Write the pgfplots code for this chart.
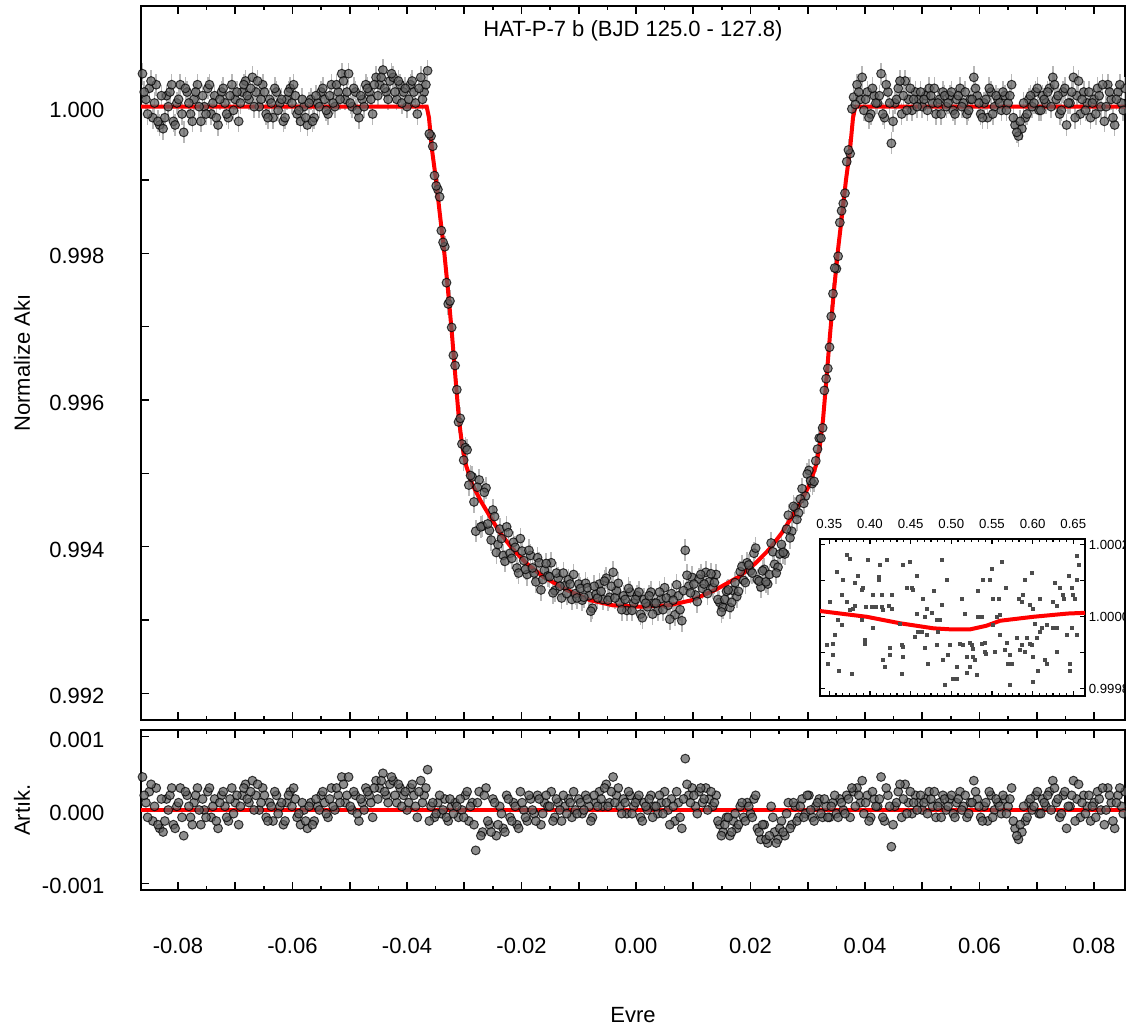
\documentclass[border=0pt]{standalone}
\usepackage{fontspec}
\setmainfont{Liberation Sans}
\usepackage{pgfplots}
\usepackage{pgfplotstable}
\pgfplotsset{compat=1.18}

% phase, normalised flux, residual (first half of the points)
\pgfplotstableread{
x f r
-0.0862 1.00045 0.00045
-0.0856 1.00010 0.00010
-0.0850 1.00025 0.00025
-0.0844 0.99985 -0.00015
-0.0838 1.00030 0.00030
-0.0832 0.99975 -0.00025
-0.0826 0.99970 -0.00030
-0.0820 1.00015 0.00015
-0.0814 1.00020 0.00020
-0.0808 0.99980 -0.00020
-0.0802 1.00005 0.00005
-0.0796 1.00030 0.00030
-0.0790 0.99965 -0.00035
-0.0784 1.00020 0.00020
-0.0778 0.99990 -0.00010
-0.0772 1.00010 0.00010
-0.0766 1.00030 0.00030
-0.0760 0.99980 -0.00020
-0.0754 1.00000 0.00000
-0.0748 1.00025 0.00025
-0.0742 0.99990 -0.00010
-0.0736 1.00015 0.00015
-0.0730 0.99975 -0.00025
-0.0724 1.00020 0.00020
-0.0718 1.00005 0.00005
-0.0712 0.99985 -0.00015
-0.0706 1.00030 0.00030
-0.0700 1.00010 0.00010
-0.0694 0.99980 -0.00020
-0.0688 1.00020 0.00020
-0.0682 1.00035 0.00035
-0.0676 1.00010 0.00010
-0.0670 1.00040 0.00040
-0.0664 1.00020 0.00020
-0.0658 1.00000 0.00000
-0.0652 1.00030 0.00030
-0.0646 0.99990 -0.00010
-0.0640 1.00010 0.00010
-0.0634 0.99985 -0.00015
-0.0628 1.00020 0.00020
-0.0622 1.00005 0.00005
-0.0616 0.99980 -0.00020
-0.0610 1.00010 0.00010
-0.0604 1.00025 0.00025
-0.0598 1.00030 0.00030
-0.0592 0.99990 -0.00010
-0.0586 0.99980 -0.00020
-0.0580 1.00000 0.00000
-0.0574 0.99975 -0.00025
-0.0568 1.00010 0.00010
-0.0562 0.99985 -0.00015
-0.0556 1.00005 0.00005
-0.0550 1.00020 0.00020
-0.0544 1.00010 0.00010
-0.0538 0.99990 -0.00010
-0.0532 1.00030 0.00030
-0.0526 1.00000 0.00000
-0.0520 1.00020 0.00020
-0.0514 1.00045 0.00045
-0.0508 1.00010 0.00010
-0.0502 1.00045 0.00045
-0.0496 1.00000 0.00000
-0.0490 1.00020 0.00020
-0.0484 0.99985 -0.00015
-0.0478 1.00010 0.00010
-0.0472 1.00030 0.00030
-0.0466 1.00020 0.00020
-0.0460 0.99990 -0.00010
-0.0454 1.00040 0.00040
-0.0448 1.00030 0.00030
-0.0442 1.00050 0.00050
-0.0436 1.00020 0.00020
-0.0430 1.00035 0.00035
-0.0424 1.00040 0.00040
-0.0418 1.00010 0.00010
-0.0412 1.00030 0.00030
-0.0406 1.00020 0.00020
-0.0400 1.00000 0.00000
-0.0394 1.00030 0.00030
-0.0388 1.00020 0.00020
-0.0382 0.99990 -0.00010
-0.0376 1.00040 0.00040
-0.0370 1.00020 0.00020
-0.0364 1.00049 0.00055
-0.0358 0.99960 0.00005
-0.0352 0.99906 -0.00010
-0.0346 0.99887 0.00010
-0.0340 0.99831 -0.00005
-0.0334 0.99809 0.00015
-0.0328 0.99731 -0.00015
-0.0322 0.99699 0.00005
-0.0316 0.99647 0.00010
-0.0310 0.99570 -0.00010
-0.0304 0.99540 0.00000
-0.0298 0.99535 0.00020
-0.0292 0.99484 -0.00015
-0.0286 0.99495 0.00010
-0.0280 0.99421 -0.00055
-0.0274 0.99491 0.00025
-0.0268 0.99428 -0.00030
-0.0262 0.99480 0.00030
-0.0256 0.99422 -0.00020
-0.0250 0.99450 0.00015
-0.0244 0.99392 -0.00035
-0.0238 0.99424 0.00005
-0.0232 0.99388 -0.00025
-0.0226 0.99427 0.00020
-0.0220 0.99391 -0.00010
-0.0214 0.99406 0.00010
-0.0208 0.99371 -0.00020
-0.0202 0.99411 0.00025
-0.0196 0.99381 0.00000
-0.0190 0.99362 -0.00015
-0.0184 0.99388 0.00015
-0.0178 0.99364 -0.00005
-0.0172 0.99385 0.00020
-0.0166 0.99341 -0.00020
-0.0160 0.99368 0.00010
-0.0154 0.99360 0.00005
-0.0148 0.99378 0.00025
-0.0142 0.99340 -0.00010
-0.0136 0.99357 0.00010
-0.0130 0.99330 -0.00015
-0.0124 0.99347 0.00005
-0.0118 0.99355 0.00015
-0.0112 0.99328 -0.00010
-0.0106 0.99336 0.00000
-0.0100 0.99349 0.00015
-0.0094 0.99327 -0.00005
-0.0088 0.99350 0.00020
-0.0082 0.99333 0.00005
-0.0076 0.99316 -0.00010
-0.0070 0.99335 0.00010
-0.0064 0.99349 0.00025
-0.0058 0.99328 0.00005
-0.0052 0.99357 0.00035
-0.0046 0.99331 0.00010
-0.0040 0.99365 0.00045
-0.0034 0.99340 0.00020
-0.0028 0.99324 0.00005
-0.0022 0.99333 0.00015
-0.0016 0.99313 -0.00005
-0.0010 0.99338 0.00020
-0.0004 0.99323 0.00005
0.0002 0.99333 0.00015
0.0008 0.99308 -0.00010
0.0014 0.99328 0.00010
0.0020 0.99318 0.00000
0.0026 0.99338 0.00020
0.0032 0.99323 0.00005
0.0038 0.99313 -0.00005
0.0044 0.99329 0.00010
0.0050 0.99344 0.00025
0.0056 0.99320 0.00000
0.0062 0.99336 0.00015
0.0068 0.99307 -0.00015
0.0074 0.99333 0.00010
0.0080 0.99299 -0.00025
0.0086 0.99395 0.00070
0.0092 0.99346 0.00020
0.0098 0.99358 0.00030
0.0104 0.99334 0.00005
0.0110 0.99356 0.00025
0.0116 0.99343 0.00010
0.0122 0.99365 0.00030
0.0128 0.99352 0.00015
0.0134 0.99344 0.00005
0.0140 0.99362 0.00020
0.0146 0.99324 -0.00020
0.0152 0.99317 -0.00030
0.0158 0.99339 -0.00010
0.0164 0.99317 -0.00035
0.0170 0.99340 -0.00015
0.0176 0.99332 -0.00025
0.0182 0.99366 0.00005
0.0188 0.99354 -0.00010
0.0194 0.99378 0.00010
0.0200 0.99367 -0.00005
0.0206 0.99391 0.00015
0.0212 0.99355 -0.00025
0.0218 0.99345 -0.00040
0.0224 0.99369 -0.00020
0.0230 0.99349 -0.00045
0.0236 0.99405 0.00005
0.0242 0.99376 -0.00030
0.0248 0.99372 -0.00040
0.0254 0.99403 -0.00015
0.0260 0.99390 -0.00035
0.0266 0.99443 0.00010
0.0272 0.99421 -0.00020
0.0278 0.99453 0.00005
0.0284 0.99446 -0.00010
0.0290 0.99479 0.00015
0.0296 0.99469 -0.00005
0.0302 0.99504 0.00020
0.0308 0.99486 -0.00010
0.0314 0.99517 0.00005
0.0320 0.99548 0.00015
0.0326 0.99562 -0.00010
0.0332 0.99629 0.00005
0.0338 0.99672 -0.00010
0.0344 0.99745 0.00010
0.0350 0.99779 -0.00005
0.0356 0.99842 0.00015
0.0362 0.99868 0.00000
0.0368 0.99925 0.00020
0.0374 0.99936 -0.00010
0.0380 1.00013 0.00025
0.0386 1.00030 0.00030
0.0392 1.00010 0.00010
0.0398 0.99995 -0.00005
0.0404 1.00020 0.00020
0.0410 0.99990 -0.00010
0.0416 1.00015 0.00015
0.0422 1.00005 0.00005
0.0428 1.00045 0.00045
0.0434 0.99985 -0.00015
0.0440 1.00020 0.00020
0.0446 0.99950 -0.00050
0.0452 1.00005 0.00005
0.0458 1.00025 0.00025
0.0464 0.99990 -0.00010
0.0470 1.00035 0.00035
0.0476 1.00010 0.00010
0.0482 0.99995 -0.00005
0.0488 1.00020 0.00020
0.0494 1.00010 0.00010
0.0500 1.00000 0.00000
0.0506 1.00015 0.00015
0.0512 1.00025 0.00025
0.0518 1.00005 0.00005
0.0524 0.99990 -0.00010
0.0530 1.00010 0.00010
0.0536 1.00020 0.00020
0.0542 1.00000 0.00000
0.0548 1.00015 0.00015
0.0554 0.99995 -0.00005
0.0560 1.00010 0.00010
0.0566 1.00025 0.00025
0.0572 1.00005 0.00005
0.0578 0.99990 -0.00010
0.0584 1.00010 0.00010
0.0590 1.00040 0.00040
0.0596 1.00015 0.00015
0.0602 0.99990 -0.00010
0.0608 1.00005 0.00005
0.0614 0.99985 -0.00015
0.0620 1.00020 0.00020
0.0626 1.00000 0.00000
0.0632 1.00010 0.00010
0.0638 0.99995 -0.00005
0.0644 1.00015 0.00015
0.0650 1.00005 0.00005
0.0656 1.00030 0.00030
0.0662 0.99975 -0.00025
0.0668 0.99960 -0.00040
0.0674 0.99970 -0.00030
0.0680 0.99985 -0.00015
0.0686 1.00010 0.00010
0.0692 1.00000 0.00000
0.0698 1.00020 0.00020
0.0704 0.99995 -0.00005
0.0710 1.00015 0.00015
0.0716 1.00005 0.00005
0.0722 1.00025 0.00025
0.0728 1.00040 0.00040
0.0734 1.00010 0.00010
0.0740 0.99990 -0.00010
0.0746 1.00020 0.00020
0.0752 0.99975 -0.00025
0.0758 1.00005 0.00005
0.0764 1.00040 0.00040
0.0770 1.00015 0.00015
0.0776 0.99990 -0.00010
0.0782 1.00020 0.00020
0.0788 1.00005 0.00005
0.0794 0.99985 -0.00015
0.0800 1.00010 0.00010
0.0806 1.00025 0.00025
0.0812 1.00000 0.00000
0.0818 0.99980 -0.00020
0.0824 1.00030 0.00030
0.0830 1.00010 0.00010
0.0836 0.99975 -0.00025
0.0842 1.00020 0.00020
0.0848 1.00005 0.00005
0.0854 1.00025 0.00025
}\phota

% second half of the points
\pgfplotstableread{
x f r
-0.0859 1.00020 0.00020
-0.0853 0.99990 -0.00010
-0.0847 1.00035 0.00035
-0.0841 1.00005 0.00005
-0.0835 0.99980 -0.00020
-0.0829 1.00015 0.00015
-0.0823 0.99985 -0.00015
-0.0817 1.00000 0.00000
-0.0811 1.00030 0.00030
-0.0805 0.99975 -0.00025
-0.0799 1.00010 0.00010
-0.0793 0.99990 -0.00010
-0.0787 1.00025 0.00025
-0.0781 1.00005 0.00005
-0.0775 0.99980 -0.00020
-0.0769 1.00020 0.00020
-0.0763 1.00000 0.00000
-0.0757 1.00015 0.00015
-0.0751 0.99990 -0.00010
-0.0745 1.00030 0.00030
-0.0739 1.00005 0.00005
-0.0733 0.99985 -0.00015
-0.0727 1.00010 0.00010
-0.0721 1.00025 0.00025
-0.0715 0.99990 -0.00010
-0.0709 1.00015 0.00015
-0.0703 0.99995 -0.00005
-0.0697 1.00020 0.00020
-0.0691 1.00005 0.00005
-0.0685 1.00030 0.00030
-0.0679 1.00015 0.00015
-0.0673 1.00025 0.00025
-0.0667 1.00000 0.00000
-0.0661 1.00035 0.00035
-0.0655 1.00010 0.00010
-0.0649 1.00020 0.00020
-0.0643 0.99985 -0.00015
-0.0637 1.00005 0.00005
-0.0631 1.00025 0.00025
-0.0625 0.99995 -0.00005
-0.0619 1.00010 0.00010
-0.0613 0.99985 -0.00015
-0.0607 1.00020 0.00020
-0.0601 1.00005 0.00005
-0.0595 1.00015 0.00015
-0.0589 0.99995 -0.00005
-0.0583 1.00010 0.00010
-0.0577 0.99985 -0.00015
-0.0571 1.00005 0.00005
-0.0565 0.99980 -0.00020
-0.0559 1.00015 0.00015
-0.0553 1.00000 0.00000
-0.0547 1.00025 0.00025
-0.0541 0.99995 -0.00005
-0.0535 1.00015 0.00015
-0.0529 1.00005 0.00005
-0.0523 1.00030 0.00030
-0.0517 1.00010 0.00010
-0.0511 1.00035 0.00035
-0.0505 1.00020 0.00020
-0.0499 1.00005 0.00005
-0.0493 1.00025 0.00025
-0.0487 0.99995 -0.00005
-0.0481 1.00015 0.00015
-0.0475 1.00000 0.00000
-0.0469 1.00025 0.00025
-0.0463 1.00010 0.00010
-0.0457 1.00030 0.00030
-0.0451 1.00015 0.00015
-0.0445 1.00040 0.00040
-0.0439 1.00025 0.00025
-0.0433 1.00010 0.00010
-0.0427 1.00045 0.00045
-0.0421 1.00020 0.00020
-0.0415 1.00035 0.00035
-0.0409 1.00005 0.00005
-0.0403 1.00025 0.00025
-0.0397 1.00010 0.00010
-0.0391 1.00035 0.00035
-0.0385 1.00005 0.00005
-0.0379 1.00025 0.00025
-0.0373 1.00010 0.00010
-0.0367 1.00030 0.00030
-0.0361 0.99963 -0.00015
-0.0355 0.99946 0.00010
-0.0349 0.99892 -0.00005
-0.0343 0.99877 0.00020
-0.0337 0.99815 0.00000
-0.0331 0.99760 -0.00010
-0.0325 0.99735 0.00015
-0.0319 0.99661 -0.00005
-0.0313 0.99614 0.00005
-0.0307 0.99575 0.00015
-0.0301 0.99518 -0.00010
-0.0295 0.99532 0.00025
-0.0289 0.99497 0.00005
-0.0283 0.99461 -0.00020
-0.0277 0.99481 0.00010
-0.0271 0.99427 -0.00035
-0.0265 0.99474 0.00020
-0.0259 0.99431 -0.00015
-0.0253 0.99409 -0.00030
-0.0247 0.99441 0.00010
-0.0241 0.99403 -0.00020
-0.0235 0.99411 -0.00005
-0.0229 0.99380 -0.00030
-0.0223 0.99419 0.00015
-0.0217 0.99384 -0.00015
-0.0211 0.99399 0.00005
-0.0205 0.99364 -0.00025
-0.0199 0.99394 0.00010
-0.0193 0.99369 -0.00010
-0.0187 0.99395 0.00020
-0.0181 0.99371 0.00000
-0.0175 0.99352 -0.00015
-0.0169 0.99378 0.00015
-0.0163 0.99355 -0.00005
-0.0157 0.99377 0.00020
-0.0151 0.99359 0.00005
-0.0145 0.99337 -0.00015
-0.0139 0.99364 0.00015
-0.0133 0.99346 0.00000
-0.0127 0.99364 0.00020
-0.0121 0.99336 -0.00005
-0.0115 0.99349 0.00010
-0.0109 0.99362 0.00025
-0.0103 0.99330 -0.00005
-0.0097 0.99343 0.00010
-0.0091 0.99331 0.00000
-0.0085 0.99344 0.00015
-0.0079 0.99312 -0.00015
-0.0073 0.99346 0.00020
-0.0067 0.99330 0.00005
-0.0061 0.99339 0.00015
-0.0055 0.99353 0.00030
-0.0049 0.99327 0.00005
-0.0043 0.99346 0.00025
-0.0037 0.99330 0.00010
-0.0031 0.99350 0.00030
-0.0025 0.99314 -0.00005
-0.0019 0.99328 0.00010
-0.0013 0.99343 0.00025
-0.0007 0.99313 -0.00005
-0.0001 0.99328 0.00010
0.0005 0.99338 0.00020
0.0011 0.99303 -0.00015
0.0017 0.99323 0.00005
0.0023 0.99333 0.00015
0.0029 0.99308 -0.00010
0.0035 0.99323 0.00005
0.0041 0.99338 0.00020
0.0047 0.99314 -0.00005
0.0053 0.99330 0.00010
0.0059 0.99301 -0.00020
0.0065 0.99327 0.00005
0.0071 0.99348 0.00025
0.0077 0.99314 -0.00010
0.0083 0.99340 0.00015
0.0089 0.99361 0.00035
0.0095 0.99337 0.00010
0.0101 0.99349 0.00020
0.0107 0.99325 -0.00005
0.0113 0.99362 0.00030
0.0119 0.99349 0.00015
0.0125 0.99336 0.00000
0.0131 0.99363 0.00025
0.0137 0.99351 0.00010
0.0143 0.99328 -0.00015
0.0149 0.99311 -0.00035
0.0155 0.99328 -0.00020
0.0161 0.99341 -0.00010
0.0167 0.99324 -0.00030
0.0173 0.99351 -0.00005
0.0179 0.99339 -0.00020
0.0185 0.99373 0.00010
0.0191 0.99351 -0.00015
0.0197 0.99375 0.00005
0.0203 0.99364 -0.00010
0.0209 0.99398 0.00020
0.0215 0.99353 -0.00030
0.0221 0.99367 -0.00020
0.0227 0.99352 -0.00040
0.0233 0.99362 -0.00035
0.0239 0.99393 -0.00010
0.0245 0.99364 -0.00045
0.0251 0.99390 -0.00025
0.0257 0.99392 -0.00030
0.0263 0.99424 -0.00005
0.0269 0.99412 -0.00025
0.0275 0.99455 0.00010
0.0281 0.99437 -0.00015
0.0287 0.99465 0.00005
0.0293 0.99459 -0.00010
0.0299 0.99499 0.00020
0.0305 0.99490 0.00000
0.0311 0.99489 -0.00015
0.0317 0.99533 0.00010
0.0323 0.99548 -0.00005
0.0329 0.99613 0.00015
0.0335 0.99643 -0.00010
0.0341 0.99714 0.00005
0.0347 0.99780 0.00020
0.0353 0.99796 -0.00010
0.0359 0.99858 0.00010
0.0365 0.99882 -0.00005
0.0371 0.99941 0.00015
0.0377 0.99997 0.00030
0.0383 1.00003 0.00005
0.0389 1.00020 0.00020
0.0395 1.00040 0.00040
0.0401 1.00010 0.00010
0.0407 0.99985 -0.00015
0.0413 1.00025 0.00025
0.0419 1.00005 0.00005
0.0425 1.00015 0.00015
0.0431 0.99990 -0.00010
0.0437 1.00030 0.00030
0.0443 1.00005 0.00005
0.0449 0.99980 -0.00020
0.0455 1.00010 0.00010
0.0461 1.00035 0.00035
0.0467 1.00015 0.00015
0.0473 0.99995 -0.00005
0.0479 1.00025 0.00025
0.0485 1.00010 0.00010
0.0491 1.00000 0.00000
0.0497 1.00020 0.00020
0.0503 1.00010 0.00010
0.0509 0.99995 -0.00005
0.0515 1.00015 0.00015
0.0521 1.00025 0.00025
0.0527 1.00005 0.00005
0.0533 0.99990 -0.00010
0.0539 1.00015 0.00015
0.0545 1.00005 0.00005
0.0551 1.00020 0.00020
0.0557 0.99990 -0.00010
0.0563 1.00015 0.00015
0.0569 1.00000 0.00000
0.0575 1.00020 0.00020
0.0581 0.99995 -0.00005
0.0587 1.00010 0.00010
0.0593 1.00025 0.00025
0.0599 1.00005 0.00005
0.0605 0.99985 -0.00015
0.0611 1.00010 0.00010
0.0617 1.00025 0.00025
0.0623 0.99990 -0.00010
0.0629 1.00015 0.00015
0.0635 1.00005 0.00005
0.0641 1.00020 0.00020
0.0647 0.99995 -0.00005
0.0653 1.00015 0.00015
0.0659 0.99985 -0.00015
0.0665 0.99965 -0.00035
0.0671 0.99980 -0.00020
0.0677 1.00005 0.00005
0.0683 0.99990 -0.00010
0.0689 1.00015 0.00015
0.0695 1.00005 0.00005
0.0701 1.00025 0.00025
0.0707 0.99995 -0.00005
0.0713 1.00010 0.00010
0.0719 1.00020 0.00020
0.0725 1.00000 0.00000
0.0731 1.00030 0.00030
0.0737 1.00015 0.00015
0.0743 0.99995 -0.00005
0.0749 1.00025 0.00025
0.0755 1.00005 0.00005
0.0761 1.00020 0.00020
0.0767 0.99985 -0.00015
0.0773 1.00035 0.00035
0.0779 1.00010 0.00010
0.0785 0.99995 -0.00005
0.0791 1.00020 0.00020
0.0797 1.00005 0.00005
0.0803 0.99990 -0.00010
0.0809 1.00015 0.00015
0.0815 1.00030 0.00030
0.0821 1.00000 0.00000
0.0827 1.00020 0.00020
0.0833 0.99985 -0.00015
0.0839 1.00010 0.00010
0.0845 1.00030 0.00030
0.0851 0.99995 -0.00005
}\photb

% transit model
\pgfplotstableread{
x y
-0.0870 1.00000
-0.03656 1.00000
-0.03616 0.99985
-0.03563 0.99941
-0.03493 0.99900
-0.03424 0.99852
-0.03354 0.99805
-0.03284 0.99750
-0.03214 0.99689
-0.03144 0.99621
-0.03092 0.99573
-0.03039 0.99539
-0.02969 0.99511
-0.02865 0.99486
-0.02725 0.99464
-0.02550 0.99441
-0.02376 0.99419
-0.02148 0.99396
-0.01909 0.99377
-0.01624 0.99359
-0.01210 0.99341
-0.00803 0.99327
-0.00402 0.99320
0.00087 0.99318
0.00576 0.99320
0.00977 0.99327
0.01384 0.99341
0.01798 0.99359
0.02083 0.99377
0.02322 0.99396
0.02550 0.99419
0.02724 0.99441
0.02899 0.99464
0.03039 0.99486
0.03143 0.99511
0.03213 0.99539
0.03266 0.99573
0.03318 0.99621
0.03388 0.99689
0.03458 0.99750
0.03528 0.99805
0.03598 0.99852
0.03667 0.99900
0.03737 0.99941
0.03790 0.99985
0.03830 1.00000
0.0860 1.00000
}\model

% secondary eclipse inset: points
\pgfplotstableread{
x y
0.3713 1.000171
0.3754 1.000162
0.3980 1.000159
0.4123 1.000144
0.4213 1.000157
0.4410 1.000144
0.4492 1.000153
0.4882 1.000159
0.5620 1.000153
0.6542 1.000169
0.6563 1.000144
0.3598 1.000125
0.3672 1.000102
0.3857 1.000113
0.3816 1.000094
0.4111 1.000111
0.4115 1.000102
0.4582 1.000113
0.4943 1.000102
0.5386 1.000102
0.5476 1.000102
0.5497 1.000134
0.5911 1.000102
0.5997 1.000122
0.6452 1.000113
0.6276 1.000093
0.6546 1.000102
0.3652 1.000062
0.3918 1.000081
0.3898 1.000074
0.4033 1.000060
0.4144 1.000062
0.4267 1.000062
0.4451 1.000081
0.4513 1.000079
0.4533 1.000074
0.4656 1.000051
0.4792 1.000072
0.5136 1.000051
0.5333 1.000072
0.5517 1.000051
0.5587 1.000051
0.5669 1.000081
0.5833 1.000051
0.5886 1.000062
0.6091 1.000051
0.6378 1.000060
0.6386 1.000051
0.6337 1.000081
0.6489 1.000079
0.6501 1.000060
0.6522 1.000051
0.3508 1.000042
0.3713 1.000042
0.3754 1.000020
0.3816 1.000030
0.3795 1.000023
0.3951 1.000028
0.4021 1.000028
0.4144 1.000028
0.4164 1.000020
0.4238 1.000030
0.4267 1.000023
0.4074 1.000028
0.4574 1.000009
0.4697 1.000023
0.4759 1.000011
0.4882 1.000032
0.5169 1.000009
0.5333 1.000000
0.5374 1.000000
0.5558 1.000000
0.5599 1.000005
0.5866 1.000042
0.5968 1.000034
0.6009 1.000023
0.6255 1.000042
0.6296 1.000030
0.3611 0.999991
0.3652 0.999977
0.3898 0.999991
0.4041 0.999968
0.4369 0.999980
0.4595 0.999958
0.4636 0.999958
0.4677 1.000000
0.4820 0.999991
0.4861 0.999991
0.4841 0.999958
0.5517 0.999977
0.6030 0.999981
0.6112 0.999968
0.6173 0.999977
0.6255 0.999968
0.6296 0.999968
0.6481 0.999968
0.3467 0.999921
0.3570 0.999949
0.3549 0.999926
0.3939 0.999935
0.3943 0.999926
0.4246 0.999914
0.4390 0.999921
0.4410 0.999917
0.4554 0.999944
0.4677 0.999914
0.4697 0.999949
0.4820 0.999921
0.4984 0.999921
0.5107 0.999926
0.5148 0.999921
0.5230 0.999928
0.5251 0.999921
0.5271 0.999912
0.5374 0.999926
0.5415 0.999928
0.5599 0.999949
0.5681 0.999928
0.5804 0.999942
0.5866 0.999921
0.5927 0.999942
0.5968 0.999926
0.5989 0.999921
0.6050 0.999942
0.6091 0.999958
0.6419 0.999949
0.6542 0.999949
0.3549 0.999894
0.3488 0.999870
0.4164 0.999880
0.4185 0.999861
0.4246 0.999894
0.4410 0.999889
0.4718 0.999870
0.4902 0.999880
0.4964 0.999894
0.5066 0.999861
0.5189 0.999889
0.5271 0.999889
0.5292 0.999880
0.5415 0.999903
0.5420 0.999898
0.5538 0.999903
0.5661 0.999907
0.5722 0.999894
0.5702 0.999870
0.5743 0.999870
0.5845 0.999907
0.5907 0.999903
0.6009 0.999889
0.6153 0.999880
0.6173 0.999870
0.6296 0.999903
0.6460 0.999870
0.3623 0.999850
0.3775 0.999841
0.4390 0.999841
0.4923 0.999810
0.5025 0.999829
0.5066 0.999829
0.5189 0.999843
0.5230 0.999861
0.5312 0.999838
0.5722 0.999810
0.6009 0.999819
0.6071 0.999850
0.6460 0.999850
}\secpts

% secondary eclipse inset: model
\pgfplotstableread{
x y
0.3386 1.000016
0.3600 1.000010
0.3960 1.000000
0.4370 0.999982
0.4780 0.999968
0.5000 0.999965
0.5230 0.999965
0.5430 0.999975
0.5600 0.999989
0.6010 1.000000
0.6430 1.000009
0.6644 1.000011
}\secmodel

\pgfplotsset{
  panel/.style={
    scale only axis,
    tick align=inside,
    scaled ticks=false,
    axis line style={black, line width=1pt},
    every tick/.style={black, line width=0.8pt},
    tick label style={font=\fontsize{11}{13}\selectfont},
    label style={font=\fontsize{11}{13}\selectfont},
    xmin=-0.08646, xmax=0.08541,
    xtick={-0.08,-0.07,-0.06,-0.05,-0.04,-0.03,-0.02,-0.01,0,0.01,0.02,0.03,0.04,0.05,0.06,0.07,0.08},
    minor x tick num=1,
    major tick length=3.8pt,
    minor tick length=2pt,
    ytick pos=left,
    yticklabel style={xshift=-14.8pt, yshift=-1.5pt},
  },
  dots/.style={only marks, mark=*, mark size=2.2pt,
    mark options={fill=black!62, draw=black, fill opacity=0.72, draw opacity=0.75, line width=0.5pt}},
  ebars/.style={error bars/.cd, y dir=both, y fixed=0.00015, error mark=none,
    error bar style={black!28, line width=0.8pt}},
}

\begin{document}
\begin{tikzpicture}
\path[use as bounding box] (0pt,0pt) rectangle (563pt,-514pt);

% light curve
\begin{axis}[panel,
  at={(70.5pt,-3pt)}, anchor=north west,
  width=492pt, height=357pt,
  ymin=0.991636, ymax=1.001373,
  xticklabels={},
  ytick={0.992,0.993,0.994,0.995,0.996,0.997,0.998,0.999,1.000},
  yticklabels={0.992,,0.994,,0.996,,0.998,,1.000},
  ylabel={Normalize Akı},
  ylabel style={at={(axis description cs:-0.121,0.5)}, anchor=center},
  title={HAT-P-7 b (BJD 125.0 - 127.8)},
  title style={at={(axis description cs:0.5,1)}, anchor=center, yshift=-18.5pt, font=\fontsize{11}{13}\selectfont},
]
\addplot[dots, ebars] table[x=x, y=f] {\phota};
\addplot[dots, ebars] table[x=x, y=f] {\photb};
\addplot[red, line width=2pt] table[x=x, y=y] {\model};
\end{axis}

% residuals
\begin{axis}[panel,
  at={(70.5pt,-365pt)}, anchor=north west,
  width=492pt, height=80pt,
  ymin=-0.00109, ymax=0.00109,
  ytick={-0.001,0,0.001},
  yticklabels={-0.001,0.000,0.001},
  xticklabels={-0.08,,-0.06,,-0.04,,-0.02,,0.00,,0.02,,0.04,,0.06,,0.08},
  xticklabel style={yshift=-20.3pt},
  xlabel={Evre},
  xlabel style={at={(axis description cs:0.5,0)}, anchor=center, yshift=-62.5pt},
  ylabel={Artık.},
  ylabel style={at={(axis description cs:-0.121,0.5)}, anchor=center},
]
\addplot[dots] table[x=x, y=r] {\phota};
\addplot[dots] table[x=x, y=r] {\photb};
\addplot[red, line width=2pt] coordinates {(-0.087,0) (0.086,0)};
\end{axis}

% inset
\begin{axis}[
  at={(410pt,-269.65pt)}, anchor=north west,
  scale only axis, width=132.5pt, height=78.2pt,
  axis background/.style={fill=white},
  xmin=0.3386, xmax=0.6644, ymin=0.999781, ymax=1.000215,
  scaled ticks=false,
  tick align=inside,
  axis line style={black, line width=1pt},
  every tick/.style={black, line width=0.6pt},
  major tick length=2.5pt, minor tick length=1.6pt,
  xtick={0.35,0.40,0.45,0.50,0.55,0.60,0.65},
  xticklabels={0.35,0.40,0.45,0.50,0.55,0.60,0.65},
  minor x tick num=5,
  xticklabel pos=right,
  xticklabel style={yshift=2pt},
  ytick={0.9998,0.9999,1.0,1.0001,1.0002},
  yticklabels={0.9998,,1.0000,,1.0002},
  yticklabel pos=right,
  yticklabel style={xshift=-1.6pt},
  tick label style={font=\fontsize{6.6}{8}\selectfont},
]
\addplot[only marks, mark=square*, mark size=0.75pt, black!70] table[x=x, y=y] {\secpts};
\addplot[red, line width=2pt] table[x=x, y=y] {\secmodel};
\end{axis}
\end{tikzpicture}
\end{document}
